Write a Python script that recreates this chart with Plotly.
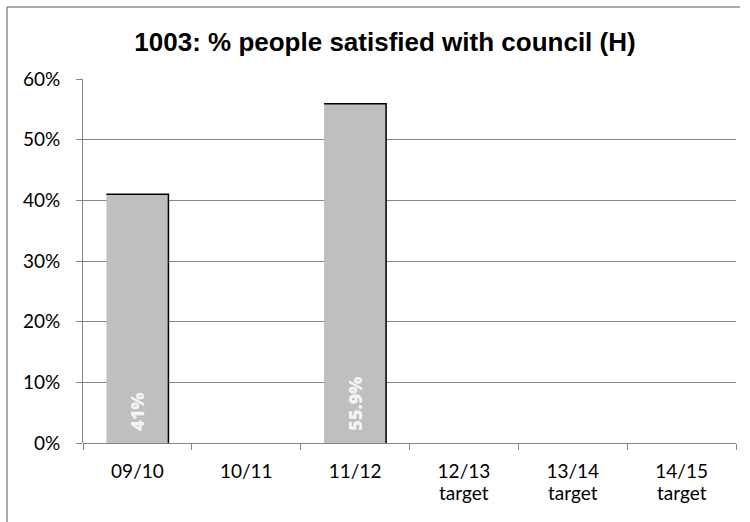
import plotly.graph_objects as go

# Data
categories = ["09/10", "10/11", "11/12", "12/13", "13/14", "14/15"]
category_notes = ["", "", "", "target", "target", "target"]
values = [41.0, None, 55.9, None, None, None]
bar_labels = ["41%", "", "55.9%", "", "", ""]
y_tick_vals = [0, 10, 20, 30, 40, 50, 60]
y_tick_text = ["0%", "10%", "20%", "30%", "40%", "50%", "60%"]

x_pos = list(range(len(categories)))
bar_width = 0.57
grid_col = "#868686"
label_font = "Lato, Open Sans, sans-serif"

fig = go.Figure()

fig.add_trace(go.Bar(
    x=x_pos,
    y=values,
    width=bar_width,
    marker=dict(color="#BFBFBF", line=dict(width=0)),
    text=bar_labels,
    texttemplate="\u00a0\u00a0%{text}",
    textposition="inside",
    insidetextanchor="start",
    textangle=-90,
    textfont=dict(family="Open Sans, Lato, sans-serif", size=18, color="#F4F4F4", weight=800),
    hoverinfo="skip",
    showlegend=False,
))

# Dark edge along the top and right side of each bar
for xi, v in zip(x_pos, values):
    if v is None:
        continue
    fig.add_trace(go.Scatter(
        x=[xi - bar_width / 2, xi + bar_width / 2, xi + bar_width / 2],
        y=[v, v, 0],
        mode="lines",
        line=dict(color="#000000", width=1.5),
        hoverinfo="skip",
        showlegend=False,
    ))

# Second line of the category labels
annotations = [
    dict(x=xi, y=0, xref="x", yref="paper", text=note, showarrow=False,
         yanchor="middle", yshift=-49,
         font=dict(family=label_font, size=19, color="#000000"))
    for xi, note in zip(x_pos, category_notes) if note
]

fig.update_layout(
    width=750,
    height=522,
    margin=dict(l=83, r=14, t=79, b=79),
    paper_bgcolor="white",
    plot_bgcolor="white",
    title=dict(
        text="<b>1003: % people satisfied with council (H)</b>",
        x=385 / 750, xref="container", xanchor="center",
        y=1 - 42 / 522, yref="container", yanchor="middle",
        font=dict(family="Liberation Sans, Arial, sans-serif", size=26, color="#000000"),
    ),
    xaxis=dict(
        range=[-0.5, 5.5],
        tickvals=x_pos,
        ticktext=categories,
        ticks="",
        showgrid=False,
        zeroline=False,
        showline=False,
        tickfont=dict(family=label_font, size=19, color="#000000"),
        ticklabelstandoff=15,
        minor=dict(
            tickvals=[i - 0.5 for i in range(len(categories) + 1)],
            ticks="outside", ticklen=6, tickcolor=grid_col, tickwidth=1, showgrid=False,
        ),
        fixedrange=True,
    ),
    yaxis=dict(
        range=[0, 60],
        tickvals=y_tick_vals,
        ticktext=y_tick_text,
        ticks="outside",
        ticklen=6,
        tickcolor=grid_col,
        showgrid=True,
        gridcolor=grid_col,
        gridwidth=1,
        showline=True,
        linecolor=grid_col,
        linewidth=1,
        zeroline=True,
        zerolinecolor=grid_col,
        zerolinewidth=1,
        tickfont=dict(family=label_font, size=19, color="#000000"),
        ticklabelstandoff=12,
        fixedrange=True,
    ),
    annotations=annotations,
    shapes=[
        # outer chart frame (top and left edges)
        dict(type="line", xref="paper", yref="paper", x0=-0.1164, x1=1.0061, y0=1.1978, y1=1.1978,
             line=dict(color="#8C8C8C", width=1.5)),
        dict(type="line", xref="paper", yref="paper", x0=-0.1164, x1=-0.1164, y0=1.1978, y1=-0.25,
             line=dict(color="#8C8C8C", width=1.5)),
    ],
)

fig.write_html("out.html")
